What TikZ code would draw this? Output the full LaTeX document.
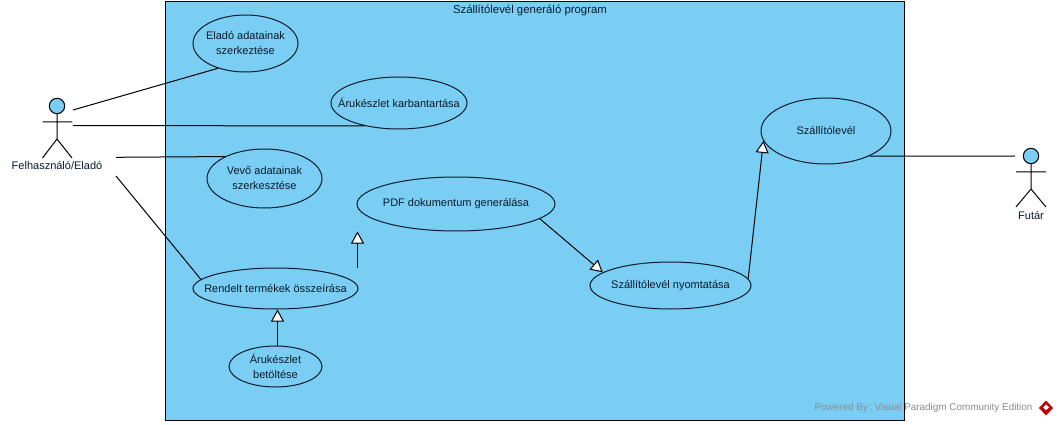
\documentclass[tikz,border=0pt]{standalone}
\usepackage{fontspec}
\setmainfont{Liberation Sans}
\usetikzlibrary{arrows.meta,shapes.geometric}
\definecolor{skyfill}{HTML}{7ACEF4}
\definecolor{lineink}{HTML}{0A1A2A}
\tikzset{
	usecase/.style={ellipse, draw=lineink, line width=1pt, fill=skyfill, inner xsep=-14pt, inner ysep=0pt, align=center, text=lineink, font=\fontsize{11}{15}\selectfont},
	actorlabel/.style={text=lineink, font=\fontsize{11}{13}\selectfont},
	assoc/.style={draw=black, line width=1pt},
	generalize/.style={draw=black, line width=1pt, -{Triangle[open, fill=white, length=12pt, width=13pt]}},
}
\begin{document}
\begin{tikzpicture}[x=1pt, y=-1pt]
	\useasboundingbox (0,0) rectangle (1058,425);
	\fill [white] (0,0) rectangle (1058,425);

	\draw [line width=1pt, fill=skyfill] (165.5,2) rectangle (904,420);
	\node [text=lineink, font=\fontsize{11.4}{13}\selectfont] (title) at (530,10) {Szállítólevél generáló program};

	% use cases
	\node [usecase, minimum width=105, minimum height=57] (eladoadat) at (245.5,43.5) {Eladó adatainak\\szerkeztése};
	\node [usecase, minimum width=136, minimum height=52] (karbantart) at (399,103) {Árukészlet karbantartása};
	\node [usecase, minimum width=115, minimum height=59] (vevoadat) at (264.5,178.5) {Vevő adatainak\\szerkesztése};
	\node [usecase, minimum width=198, minimum height=54] (pdfgen) at (456,204) {PDF dokumentum generálása};
	\node [usecase, minimum width=165, minimum height=41] (rendelt) at (275.5,288.5) {Rendelt termékek összeírása};
	\node [usecase, minimum width=93, minimum height=41] (betoltes) at (275.5,366.5) {Árukészlet\\betöltése};
	\node [usecase, minimum width=161, minimum height=47] (nyomtat) at (670.5,285.5) {Szállítólevél nyomtatása};
	\node [usecase, minimum width=130, minimum height=66] (szallito) at (826,131) {Szállítólevél};

	% actors
	\draw [line width=1pt, fill=skyfill] (57,106) circle (7.7);
	\draw [line width=1pt] (57,114) -- (57,139) (42.5,122) -- (72,122) (42.5,158) -- (57,139) -- (72,158);
	\node [actorlabel] (felhasznalo) at (57,166) {Felhasználó/Eladó};

	\draw [line width=1pt, fill=skyfill] (1031,156) circle (7.7);
	\draw [line width=1pt] (1031,164) -- (1031,189) (1016,172) -- (1046,172) (1016,207) -- (1031,189) -- (1046,207);
	\node [actorlabel] (futar) at (1031,216) {Futár};

	% free ends next to the actors
	\coordinate (f1) at (73,110);
	\coordinate (f2) at (73,125.5);
	\coordinate (f3) at (116,157.3);
	\coordinate (f4) at (116,176);
	\coordinate (f5) at (1015,156);
	\coordinate (gfrom) at (357.5,268);
	\coordinate (gto) at (357.5,231.5);

	\draw [assoc] (f1) -- (eladoadat.-138.9);
	\draw [assoc] (f2) -- (karbantart.-146.5);
	\draw [assoc] (f3) -- (vevoadat.151.8);
	\draw [assoc] (f4) -- (rendelt.173);
	\draw [assoc] (szallito.-30.8) -- (f5);

	\draw [generalize] (betoltes.north) ++(2,0) coordinate (b1) -- (b1 |- rendelt.south);
	\draw [generalize] (gfrom) -- (gto);
	\draw [generalize] (pdfgen.-10.2) -- (nyomtat.169);
	\draw [generalize] (nyomtat.5) -- (szallito.-171);

	% footer
	\node [anchor=east, text=black!45, font=\fontsize{9.9}{12}\selectfont] (powered) at (1036,408) {Powered By\hspace{2pt}:\hspace{2pt}Visual Paradigm Community Edition};
	\fill [red!75!black] (1046,400.5) -- (1053,408) -- (1046,415.5) -- (1039,408) -- cycle;
	\fill [white] (1046,404.5) -- (1049,407.5) -- (1046,410) -- (1043,407.5) -- cycle;
\end{tikzpicture}
\end{document}
